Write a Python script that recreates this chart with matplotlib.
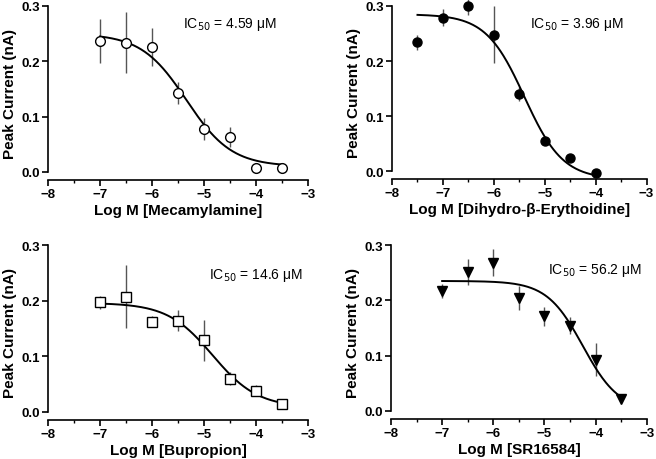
import matplotlib.pyplot as plt
import numpy as np

plt.rcParams['font.family'] = ['Liberation Sans', 'DejaVu Sans']

log_dose_mec = [-7, -6.5, -6, -5.5, -5, -4.5, -4, -3.5]
current_mec = [0.237, 0.234, 0.226, 0.142, 0.078, 0.064, 0.007, 0.007]
err_mec = [0.040, 0.055, 0.035, 0.020, 0.020, 0.018, 0.0, 0.0]

log_dose_dhbe = [-7.5, -7, -6.5, -6, -5.5, -5, -4.5, -4]
current_dhbe = [0.234, 0.279, 0.300, 0.248, 0.140, 0.054, 0.023, -0.003]
err_dhbe = [0.014, 0.016, 0.016, 0.052, 0.013, 0.004, 0.006, 0.0]

log_dose_bup = [-7, -6.5, -6, -5.5, -5, -4.5, -4, -3.5]
current_bup = [0.197, 0.207, 0.162, 0.164, 0.129, 0.060, 0.038, 0.014]
err_bup = [0.012, 0.057, 0.010, 0.019, 0.037, 0.011, 0.010, 0.0]

log_dose_sr = [-7, -6.5, -6, -5.5, -5, -4.5, -4, -3.5]
current_sr = [0.217, 0.251, 0.268, 0.204, 0.171, 0.154, 0.093, 0.021]
err_sr = [0.013, 0.024, 0.024, 0.021, 0.017, 0.015, 0.030, 0.0]

# fitted logistic curves: top, bottom, logIC50, hill, x range
fit_mec = [0.250, 0.010, -5.338, 1.0, -7, -3.5]
fit_dhbe = [0.285, -0.015, -5.40, 1.15, -7.5, -4]
fit_bup = [0.196, 0.008, -4.836, 1.0, -7, -3.5]
fit_sr = [0.235, 0.0, -4.25, 1.23, -7, -3.5]

labels = ['Log M [Mecamylamine]', 'Log M [Dihydro-β-Erythoidine]',
          'Log M [Bupropion]', 'Log M [SR16584]']
ic50_text = ['4.59', '3.96', '14.6', '56.2']


def logistic(x, top, bottom, logic50, hill):
    return bottom + (top - bottom) / (1 + 10 ** ((x - logic50) * hill))


fig = plt.figure(figsize=(6.56, 4.60), dpi=100)

panels = [
    ([0.0732, 0.6065, 0.3963, 0.3783], log_dose_mec, current_mec, err_mec, fit_mec,
     dict(marker='o', mfc='white', mec='black', ms=7), (0.88, 0.897)),
    ([0.5976, 0.6087, 0.3880, 0.3761], log_dose_dhbe, current_dhbe, err_dhbe, fit_dhbe,
     dict(marker='o', mfc='black', mec='black', ms=6.5), (0.91, 0.897)),
    ([0.0732, 0.0848, 0.3963, 0.3804], log_dose_bup, current_bup, err_bup, fit_bup,
     dict(marker='s', mfc='white', mec='black', ms=7), (0.98, 0.834)),
    ([0.5960, 0.0870, 0.3900, 0.3782], log_dose_sr, current_sr, err_sr, fit_sr,
     dict(marker='v', mfc='black', mec='black', ms=7), (0.98, 0.862)),
]

for i, (rect, xs, ys, es, fit, mstyle, txt_pos) in enumerate(panels):
    ax = fig.add_axes(rect)
    ax.errorbar(xs, ys, yerr=es, fmt='none', ecolor='#555555', elinewidth=1.0,
                capsize=0, clip_on=False, zorder=2)
    xf = np.linspace(fit[4], fit[5], 200)
    ax.plot(xf, logistic(xf, *fit[:4]), color='black', lw=1.4, zorder=3, clip_on=False)
    ax.plot(xs, ys, ls='none', mew=1.0, zorder=4, clip_on=False, **mstyle)

    ax.set_xlim(-8, -3)
    ax.set_ylim(-0.0145, 0.3)
    ax.spines['top'].set_visible(False)
    ax.spines['right'].set_visible(False)
    ax.spines['left'].set_bounds(0, 0.3)
    ax.spines['left'].set_linewidth(1.2)
    ax.spines['bottom'].set_linewidth(1.2)
    ax.set_xticks([-8, -7, -6, -5, -4, -3])
    ax.set_xticks(np.arange(-7.5, -3, 1.0), minor=True)
    ax.set_yticks([0.0, 0.1, 0.2, 0.3])
    ax.set_yticklabels(['0.0', '0.1', '0.2', '0.3'])
    ax.tick_params(which='major', direction='out', length=4, width=1.2,
                   labelsize=9.5, pad=2)
    ax.tick_params(which='minor', direction='out', length=2.5, width=1.0)
    for t in ax.get_xticklabels() + ax.get_yticklabels():
        t.set_fontweight('bold')
    ax.set_xlabel(labels[i], fontsize=11, fontweight='bold', labelpad=2)
    ax.set_ylabel('Peak Current (nA)', fontsize=11, fontweight='bold', labelpad=3)
    ax.text(txt_pos[0], txt_pos[1], 'IC$_{50}$ = ' + ic50_text[i] + ' μM',
            transform=ax.transAxes, ha='right', va='center', fontsize=10)

fig.savefig('out.png', dpi=100)
